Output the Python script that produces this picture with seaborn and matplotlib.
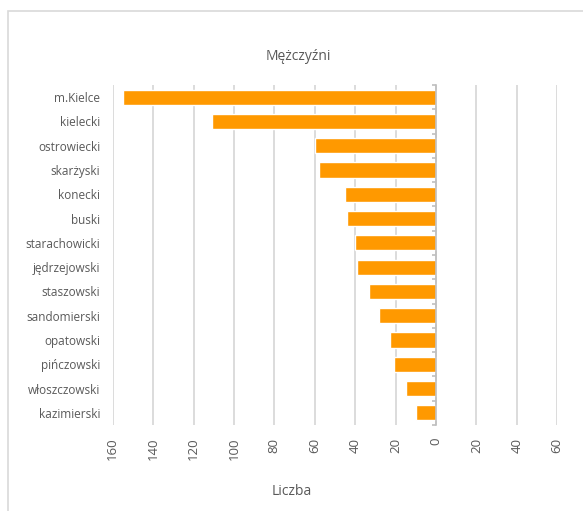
import matplotlib
matplotlib.use("Agg")
import matplotlib.pyplot as plt
import seaborn as sns
import pandas as pd
from matplotlib.patches import Rectangle

# data
powiaty = ['m.Kielce', 'kielecki', 'ostrowiecki', 'skarżyski', 'konecki', 'buski',
           'starachowicki', 'jędrzejowski', 'staszowski', 'sandomierski', 'opatowski',
           'pińczowski', 'włoszczowski', 'kazimierski']
liczba = [155, 111, 60, 58, 45, 44, 40, 39, 33, 28, 23, 21, 15, 10]
x_ticks = [160, 140, 120, 100, 80, 60, 40, 20, 0, -20, -40, -60]

df = pd.DataFrame({'powiat': powiaty, 'liczba': liczba})

sns.set_theme(style='white')
plt.rcParams['font.family'] = ['Open Sans', 'DejaVu Sans']

txt = '#595959'
grid = '#D9D9D9'

fig = plt.figure(figsize=(5.83, 5.11), dpi=100)
# chart border like the spreadsheet chart area
fig.patches.append(Rectangle((8 / 583, -0.1), 1.0, 1 - 11 / 511 + 0.1, transform=fig.transFigure,
                             fill=False, edgecolor=grid, linewidth=1.2))
ax = fig.add_axes([112.7 / 583, 1 - 425 / 511, 444.5 / 583, 340 / 511])

sns.barplot(data=df, x='liczba', y='powiat', orient='h', color='#FF9900',
            saturation=1, width=0.62, ax=ax, zorder=3)

ax.set_xlim(160, -60)
ax.set_xticks(x_ticks)
ax.set_xticklabels([str(abs(v)) for v in x_ticks], rotation=90, color=txt, fontsize=9.5)
ax.grid(axis='x', color=grid, linewidth=1.3, zorder=0)
ax.set_axisbelow(True)

for s in ['top', 'bottom', 'left']:
    ax.spines[s].set_visible(False)
ax.spines['right'].set_position(('data', 0))
ax.spines['right'].set_color('#BFBFBF')
ax.spines['right'].set_linewidth(1.2)
ax.spines['right'].set_zorder(4)

ax.set_yticks(range(len(powiaty)))
ax.set_yticklabels(powiaty, color=txt, fontsize=8.5)
ax.set_yticks([i - 0.5 for i in range(len(powiaty) + 1)], minor=True)
ax.tick_params(axis='y', which='major', length=0, pad=9)
ax.tick_params(axis='y', which='minor', left=False, right=True, length=3,
               direction='in', color='#BFBFBF', width=1.2)
ax.tick_params(axis='x', length=0, pad=9)

ax.set_xlabel('')
ax.set_ylabel('')
fig.text(298 / 583, 1 - 56 / 511, 'Mężczyźni', ha='center', va='center', color=txt, fontsize=10)
fig.text(292 / 583, 1 - 491 / 511, 'Liczba', ha='center', va='center', color=txt, fontsize=10)

fig.savefig('out.png', dpi=100)
